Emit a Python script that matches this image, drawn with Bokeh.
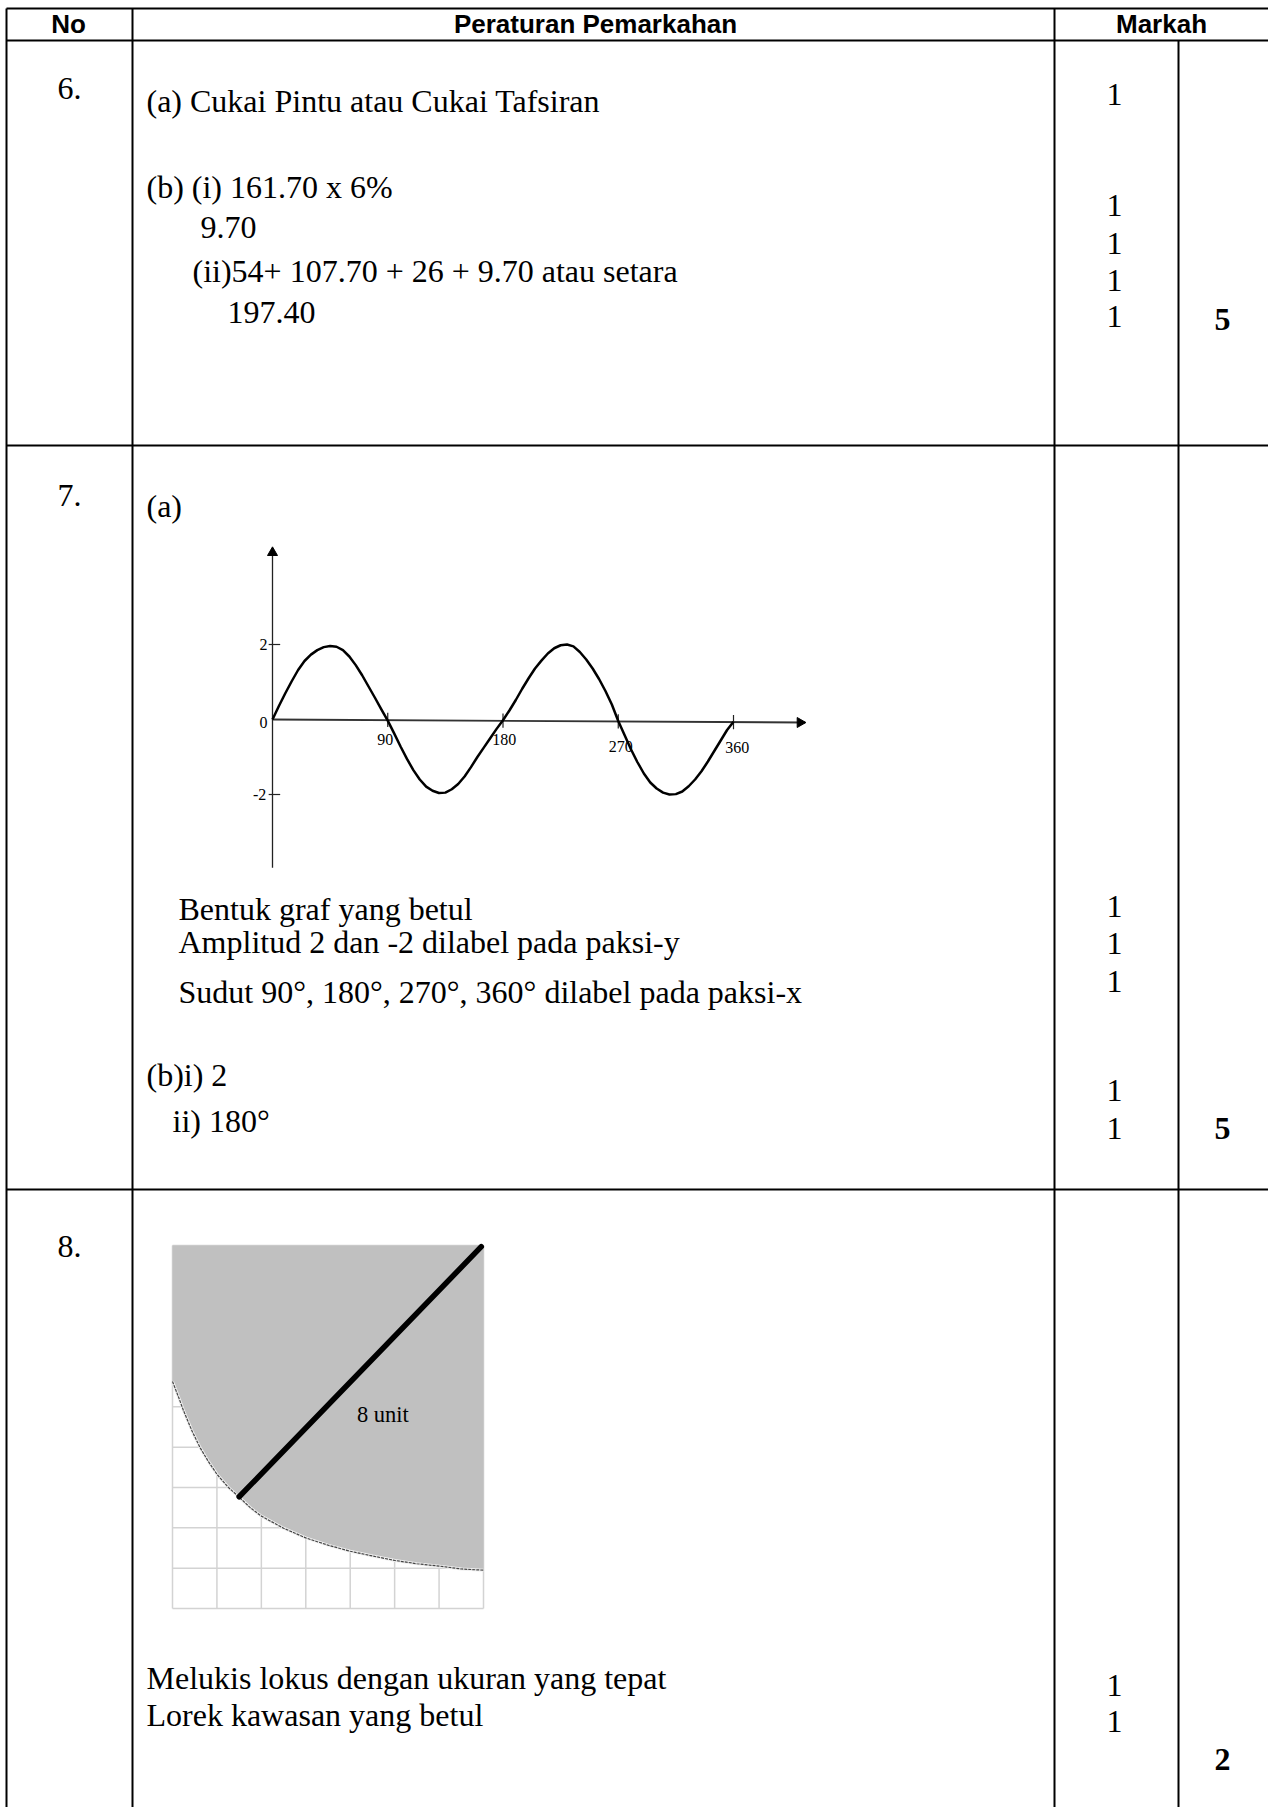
from bokeh.plotting import figure
from bokeh.models import Range1d
from bokeh.core.properties import value
from bokeh.embed import file_html
from bokeh.resources import INLINE

# ---- chart data ----
wave_deg = list(range(0, 361, 5))
wave_amp = [0.0, .36, .70, 1.02, 1.32, 1.56, 1.73, 1.85, 1.93, 1.96, 1.94, 1.85, 1.68, 1.45, 1.18, .88, .58, .27,
            -.03, -.37, -.72, -1.05, -1.35, -1.60, -1.79, -1.90, -1.96, -1.95, -1.86, -1.72, -1.52, -1.27, -1.0, -.75, -.50, -.25,
            -.02, .24, .52, .82, 1.10, 1.36, 1.57, 1.76, 1.90, 1.98, 2.0, 1.95, 1.80, 1.60, 1.36, 1.08, .76, .40,
            -.04, -.42, -.80, -1.14, -1.44, -1.68, -1.84, -1.95, -2.0, -1.99, -1.92, -1.78, -1.60, -1.38, -1.12, -.84, -.56, -.28, -.06]
x_ticks = [90, 180, 270, 360]
y_ticks = [2, -2]
locus_x = [0, .14, .25, .44, .62, .81, 1.0, 1.26, 1.51, 1.75, 2.0, 2.5, 3.0, 3.5, 4.0, 4.51, 5.01, 5.5, 6.01, 6.51, 7.0]
locus_y = [5.63, 5.23, 4.90, 4.40, 3.99, 3.64, 3.33, 3.0, 2.75, 2.5, 2.29, 1.99, 1.75, 1.57, 1.42, 1.30, 1.19, 1.11, 1.05, .98, .95]
grid_cols = [0, 1, 2, 3, 4, 5, 6, 7]
grid_rows = [0, 1, 2, 3, 4, 5, 6, 7, 8, 9]
radius_x = [1.5, 6.95]
radius_y = [2.77, 8.97]

header = ["No", "Peraturan Pemarkahan", "Markah"]
numbers = ["6.", "7.", "8."]
body_lines = [
    "(a) Cukai Pintu atau Cukai Tafsiran", "(b) (i) 161.70 x 6%", "9.70",
    "(ii)54+ 107.70 + 26 + 9.70 atau setara", "197.40", "(a)",
    "Bentuk graf yang betul", "Amplitud 2 dan -2 dilabel pada paksi-y",
    "Sudut 90°, 180°, 270°, 360° dilabel pada paksi-x", "(b)i) 2", "ii) 180°",
    "Melukis lokus dengan ukuran yang tepat", "Lorek kawasan yang betul"]
totals = ["5", "5", "2"]

# ---- page layout, in page pixels ----
W, H = 1268, 1807
p = figure(width=W, height=H, x_range=Range1d(0, W), y_range=Range1d(H, 0), x_axis_type=None, y_axis_type=None,
           output_backend="svg", toolbar_location=None, min_border=0, outline_line_color=None)
p.grid.visible = False

SERIF = value("Liberation Serif")
SANS = value("Liberation Sans")

def txt(xs, ys, labels, size, font=SERIF, style="normal", align="left", baseline="alphabetic", **kw):
    p.text(xs, ys, text=labels, text_font=font, text_font_size=f"{size}px", text_font_style=style,
           text_align=align, text_baseline=baseline, text_color="#000000", **kw)

# table rules
hx0 = [6, 6, 6, 6, 6, 132, 1054, 1178]
hx1 = [W, W, W, W, 6, 132, 1054, 1178]
hy0 = [8, 40, 445, 1189, 8, 8, 8, 40]
hy1 = [8, 40, 445, 1189, H, H, H, H]
p.segment(hx0, hy0, hx1, hy1, line_color="#000000", line_width=2)

txt([68, 595, 1161], [23, 23, 23], header, 26, SANS, "bold", "center")
txt([57, 57, 57], [88, 495, 1246], numbers, 32)

bx = [146, 146, 200, 192, 227, 146, 178, 178, 178, 146, 172, 146, 146]
by = [100, 186, 227, 270, 312, 505, 908, 941, 991, 1074, 1120, 1677, 1714]
txt(bx, by, body_lines, 32)

my = [94, 205, 243, 280, 316, 906, 943, 981, 1090, 1128, 1685, 1721]
txt([1114] * 12, my, ["1"] * 12, 32, align="center")
txt([1222, 1222, 1222], [319, 1128, 1759], totals, 32, style="bold", align="center")

# helper for embedded scales
def add_range(name, v0, px0, v1, px1, horizontal):
    k = (v1 - v0) / (px1 - px0)
    at = lambda px: v0 + (px - px0) * k
    if horizontal:
        p.extra_x_ranges[name] = Range1d(at(0), at(W))
    else:
        p.extra_y_ranges[name] = Range1d(at(H), at(0))

# sine graph
add_range("deg", 0, 272, 360, 733, True)
add_range("amp", -2, 794, 2, 644, False)
S = dict(x_range_name="deg", y_range_name="amp")
p.line([0, 0], [-3.95, 4.55], line_color="#222222", line_width=1.3, **S)
p.line([0, 416], [0, -.08], line_color="#333333", line_width=1.8, **S)
p.scatter([0], [4.45], marker="triangle", size=10, color="#000000", **S)
p.scatter([412], [-.08], marker="triangle", size=10, angle=-1.5708, color="#000000", **S)
p.segment(x_ticks, [.18, .16, .14, .12], x_ticks, [-.2, -.22, -.24, -.26], line_color="#222222", line_width=1.2, **S)
p.segment([-3, -3], y_ticks, [6, 6], y_ticks, line_color="#222222", line_width=1.2, **S)
p.line(wave_deg, wave_amp, line_color="#000000", line_width=2.5, line_join="round", **S)
txt([-7, -7, -10], [2, -.08, -2], ["2", "0", "-2"], 16, align="center", baseline="middle", **S)
txt([88, 181, 272, 363], [-.53, -.53, -.72, -.75], [str(t) for t in x_ticks], 16, align="center", baseline="middle", **S)

# locus graph
add_range("ux", 0, 172, 7, 483, True)
add_range("uy", 0, 1608, 9, 1245, False)
U = dict(x_range_name="ux", y_range_name="uy")
p.segment(grid_cols, [0] * 8, grid_cols, [9] * 8, line_color="#D3D3D3", line_width=1.5, **U)
p.segment([0] * 10, grid_rows, [7] * 10, grid_rows, line_color="#D3D3D3", line_width=1.5, **U)
p.varea(locus_x, locus_y, [9] * len(locus_x), fill_color="#C0C0C0", **U)
p.line(locus_x, locus_y, line_color="#EFEFEF", line_width=3, **U)
p.line(locus_x, locus_y, line_color="#444444", line_width=1.2, line_dash="3 1", **U)
p.line(radius_x, radius_y, line_color="#000000", line_width=5.5, line_cap="round", **U)
txt([4.15], [4.8], ["8 unit"], 22.5, **U)

open("out.html", "w").write(file_html(p, INLINE))
